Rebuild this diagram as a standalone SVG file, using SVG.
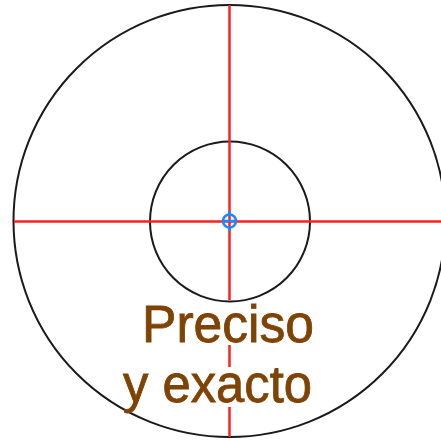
<svg xmlns="http://www.w3.org/2000/svg" width="441" height="440" viewBox="0 0 441 440">
<style>
.circ{fill:none;stroke:#1a1a1a;stroke-width:2}
.axis{stroke:#ff2020;stroke-width:2.5;fill:none}
.lbl{font-family:"Liberation Sans",Arial,sans-serif;font-size:51px;fill:#7f4304;stroke:#7f4304;stroke-width:0.8}
.mark{fill:none;stroke:#1f86ff;stroke-width:2.6}
</style>
<rect width="441" height="440" fill="#fff"/>
<g id="outer-circle"><circle class="circ" cx="229.5" cy="221" r="216"/></g>
<g id="inner-circle"><circle class="circ" cx="230" cy="221.5" r="80"/></g>
<g id="axes">
<line class="axis" x1="14" y1="221.5" x2="441" y2="221.5"/>
<line class="axis" x1="229.5" y1="5" x2="229.5" y2="300"/>
<line class="axis" x1="229.5" y1="345" x2="229.5" y2="367"/>
<line class="axis" x1="229.5" y1="407" x2="229.5" y2="437"/>
</g>
<g id="center-mark">
<circle class="mark" cx="229.5" cy="221" r="6.5"/>
<path class="mark" d="M222 221 H237 M229.5 211 v4 M229.5 227 v4"/>
</g>
<g id="label">
<text class="lbl" x="142" y="342" textLength="172" lengthAdjust="spacingAndGlyphs">Preciso</text>
<text class="lbl" x="123" y="402" textLength="189" lengthAdjust="spacingAndGlyphs">y exacto</text>
</g>
</svg>
